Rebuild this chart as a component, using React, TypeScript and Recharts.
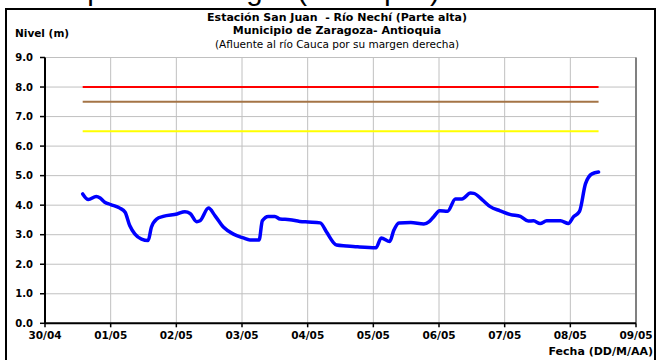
import {
  CartesianGrid,
  Line,
  LineChart,
  ReferenceLine,
  XAxis,
  YAxis,
} from "recharts";

// Time in days since 30/04 00:00
const dias = [
  0.574, 0.66, 0.78, 0.84, 0.91, 1.0, 1.14, 1.22, 1.29, 1.37, 1.47, 1.57, 1.62,
  1.7, 1.8, 2.01, 2.13, 2.21, 2.31, 2.36, 2.49, 2.59, 2.72, 2.87, 3.02, 3.12,
  3.26, 3.31, 3.4, 3.5, 3.58, 3.73, 3.88, 4.01, 4.19, 4.29, 4.39, 4.44, 4.59,
  4.76, 5.04, 5.12, 5.25, 5.31, 5.39, 5.57, 5.77, 5.85, 5.92, 6.01, 6.13, 6.25,
  6.35, 6.48, 6.53, 6.66, 6.78, 6.93, 7.09, 7.24, 7.36, 7.44, 7.54, 7.64, 7.85,
  7.97, 8.05, 8.14, 8.23, 8.33, 8.43,
];

// Water level (m)
const nivel = [
  4.38, 4.19, 4.29, 4.24, 4.1, 4.02, 3.9, 3.76, 3.31, 3.02, 2.85, 2.8, 3.25,
  3.53, 3.62, 3.7, 3.78, 3.72, 3.44, 3.47, 3.9, 3.64, 3.25, 3.02, 2.89, 2.82,
  2.82, 3.47, 3.62, 3.62, 3.53, 3.51, 3.45, 3.43, 3.4, 3.08, 2.74, 2.65, 2.62,
  2.59, 2.56, 2.89, 2.77, 3.14, 3.4, 3.41, 3.36, 3.44, 3.61, 3.81, 3.79, 4.21,
  4.21, 4.41, 4.4, 4.18, 3.95, 3.81, 3.68, 3.62, 3.46, 3.47, 3.38, 3.47, 3.47,
  3.38, 3.61, 3.79, 4.72, 5.06, 5.12,
];

// Alert thresholds (m)
const alertaRoja = 8.0;
const alertaNaranja = 7.5;
const alertaAmarilla = 6.5;

const fechaLabels = [
  "30/04", "01/05", "02/05", "03/05", "04/05",
  "05/05", "06/05", "07/05", "08/05", "09/05",
];
const fechaTicks = fechaLabels.map((_, i) => i);
const nivelTicks = [0, 1, 2, 3, 4, 5, 6, 7, 8, 9];

const data = dias.map((d, i) => ({
  dia: d,
  nivel: nivel[i],
  roja: alertaRoja,
  naranja: alertaNaranja,
  amarilla: alertaAmarilla,
}));

const font = "'DejaVu Sans', sans-serif";

export default function App() {
  return (
    <div
      style={{
        position: "absolute",
        left: 0,
        top: 0,
        width: 660,
        height: 360,
        overflow: "hidden",
        background: "#fff",
      }}
    >
      <div
        style={{
          position: "absolute",
          left: 2,
          top: -27,
          fontFamily: "'Liberation Sans', Arial, sans-serif",
          fontSize: 29.5,
          lineHeight: "34px",
          whiteSpace: "nowrap",
          color: "#000",
        }}
      >
        Municipio de El Bagre (Antioquia)
      </div>
      <div
        style={{
          position: "absolute",
          left: 5,
          top: 8,
          width: 651,
          height: 400,
          border: "2px solid #000",
          boxSizing: "border-box",
        }}
      />
      <div
        style={{
          position: "absolute",
          left: 0,
          width: 674,
          top: 11,
          textAlign: "center",
          fontFamily: font,
          fontSize: 11,
          lineHeight: "14px",
          whiteSpace: "nowrap",
        }}
      >
        <div style={{ fontWeight: "bold" }}>
          Estación San Juan&nbsp; - Río Nechí (Parte alta)
        </div>
        <div style={{ fontWeight: "bold", marginTop: -1 }}>
          Municipio de Zaragoza- Antioquia
        </div>
        <div style={{ fontSize: 10.5, marginTop: -1 }}>
          (Afluente al río Cauca por su margen derecha)
        </div>
      </div>
      <div
        style={{
          position: "absolute",
          left: 15,
          top: 27,
          fontFamily: font,
          fontSize: 10.5,
          fontWeight: "bold",
          lineHeight: "13px",
          whiteSpace: "nowrap",
        }}
      >
        Nivel (m)
      </div>
      <div
        style={{
          position: "absolute",
          right: 7,
          top: 345,
          fontFamily: font,
          fontSize: 11,
          fontWeight: "bold",
          lineHeight: "13px",
          whiteSpace: "nowrap",
        }}
      >
        Fecha (DD/M/AA)
      </div>

      <LineChart
        width={660}
        height={360}
        data={data}
        margin={{ top: 57.5, right: 24, bottom: 0, left: 0 }}
        style={{ position: "absolute", left: 0, top: 0 }}
      >
        <CartesianGrid stroke="#c0c0c0" strokeWidth={1} />
        <XAxis
          dataKey="dia"
          type="number"
          domain={[0, 9]}
          ticks={fechaTicks}
          interval={0}
          height={36.7}
          tickFormatter={(v: number) => fechaLabels[v]}
          axisLine={{ stroke: "#000", strokeWidth: 2 }}
          tickLine={{ stroke: "#000", strokeWidth: 1.5 }}
          tickSize={4}
          tickMargin={4}
          tick={{
            fill: "#000",
            fontSize: 10.5,
            fontWeight: "bold",
            fontFamily: font,
          }}
        />
        <YAxis
          type="number"
          domain={[0, 9]}
          ticks={nivelTicks}
          interval={0}
          width={45}
          tickFormatter={(v: number) => v.toFixed(1)}
          axisLine={{ stroke: "#000", strokeWidth: 2 }}
          tickLine={{ stroke: "#000", strokeWidth: 1.5 }}
          tickSize={5}
          tickMargin={7}
          tick={{
            fill: "#000",
            fontSize: 10,
            fontWeight: "bold",
            fontFamily: font,
          }}
        />
        <ReferenceLine x={9} stroke="#808080" strokeWidth={2} />
        <Line
          dataKey="roja"
          stroke="#ff0000"
          strokeWidth={2}
          dot={false}
          isAnimationActive={false}
        />
        <Line
          dataKey="naranja"
          stroke="#a47446"
          strokeWidth={2}
          dot={false}
          isAnimationActive={false}
        />
        <Line
          dataKey="amarilla"
          stroke="#ffff00"
          strokeWidth={2}
          dot={false}
          isAnimationActive={false}
        />
        <Line
          dataKey="nivel"
          type="monotone"
          stroke="#0000ff"
          strokeWidth={3.5}
          dot={false}
          strokeLinejoin="round"
          strokeLinecap="round"
          isAnimationActive={false}
        />
      </LineChart>
    </div>
  );
}
